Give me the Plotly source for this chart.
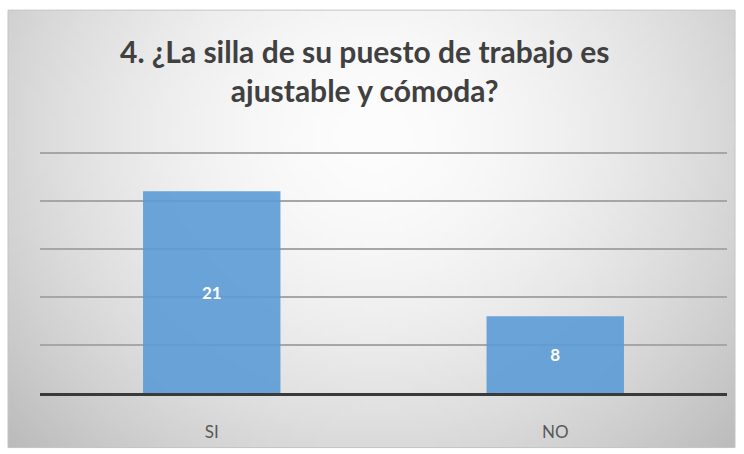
import base64
import struct
import zlib

import plotly.graph_objects as go

# Survey answers
categories = ["SI", "NO"]
counts = [21, 8]
title_text = "4. ¿La silla de su puesto de trabajo es<br>ajustable y cómoda?"

W, H = 744, 454
ML, MR, MT, MB = 40, 17, 148, 59
PW, PH = W - ML - MR, H - MT - MB
Y_MAX = 25.5


def gradient_png(w, h):
    """Small grayscale PNG with a soft radial glow, stretched as the card backdrop."""
    cx, cy = w * 0.5, h * 0.28
    rows = []
    for j in range(h):
        row = bytearray()
        for i in range(w):
            dx = (i - cx) / (w * 0.62)
            dy = (j - cy) / (h * 0.95)
            d = (dx * dx + dy * dy) ** 0.5
            v = 253 - 56 * d ** 1.7
            row.append(max(185, min(255, int(v))))
        rows.append(b"\x00" + bytes(row))
    raw = zlib.compress(b"".join(rows), 9)

    def chunk(tag, data):
        c = struct.pack(">I", len(data)) + tag + data
        return c + struct.pack(">I", zlib.crc32(tag + data) & 0xFFFFFFFF)

    png = b"\x89PNG\r\n\x1a\n"
    png += chunk(b"IHDR", struct.pack(">IIBBBBB", w, h, 8, 0, 0, 0, 0))
    png += chunk(b"IDAT", raw)
    png += chunk(b"IEND", b"")
    return "data:image/png;base64," + base64.b64encode(png).decode()


# card edges in pixels, converted to paper coordinates
card_l, card_r, card_t, card_b = 8, 735, 9, 450
px = lambda x: (x - ML) / PW
py = lambda y: (H - MB - y) / PH

fig = go.Figure(
    go.Bar(
        x=categories,
        y=counts,
        text=[str(c) for c in counts],
        textposition="inside",
        insidetextanchor="middle",
        textfont=dict(family="Lato", size=17, color="white", weight="bold"),
        marker=dict(color="rgba(91,155,213,0.9)", line=dict(width=0)),
        hoverinfo="skip",
    )
)

fig.update_layout(
    width=W,
    height=H,
    margin=dict(l=ML, r=MR, t=MT, b=MB),
    paper_bgcolor="white",
    plot_bgcolor="rgba(0,0,0,0)",
    bargap=0.6,
    showlegend=False,
    annotations=[
        dict(
            text=title_text,
            xref="paper",
            yref="paper",
            x=px(364),
            y=py(30),
            xanchor="center",
            yanchor="top",
            showarrow=False,
            align="center",
            font=dict(family="Lato", size=30, color="#404040", weight="bold"),
        )
    ],
    images=[
        dict(
            source=gradient_png(146, 88),
            xref="paper",
            yref="paper",
            x=px(card_l),
            y=py(card_t),
            sizex=px(card_r) - px(card_l),
            sizey=py(card_t) - py(card_b),
            sizing="stretch",
            layer="below",
            xanchor="left",
            yanchor="top",
        )
    ],
    shapes=[
        dict(
            type="rect",
            xref="paper",
            yref="paper",
            x0=px(card_l),
            x1=px(card_r),
            y0=py(card_b),
            y1=py(card_t),
            line=dict(color="#c4c4c4", width=1),
            layer="below",
        )
    ],
)

fig.update_yaxes(
    range=[0, Y_MAX],
    dtick=5,
    showticklabels=False,
    showgrid=True,
    gridcolor="#a6a6a6",
    gridwidth=2,
    zeroline=False,
)
fig.update_xaxes(
    showline=True,
    linecolor="#3a3a3a",
    linewidth=3,
    ticks="",
    ticklabelstandoff=22,
    tickfont=dict(family="Lato", size=17, color="#595959"),
)

fig.write_html("out.html")
